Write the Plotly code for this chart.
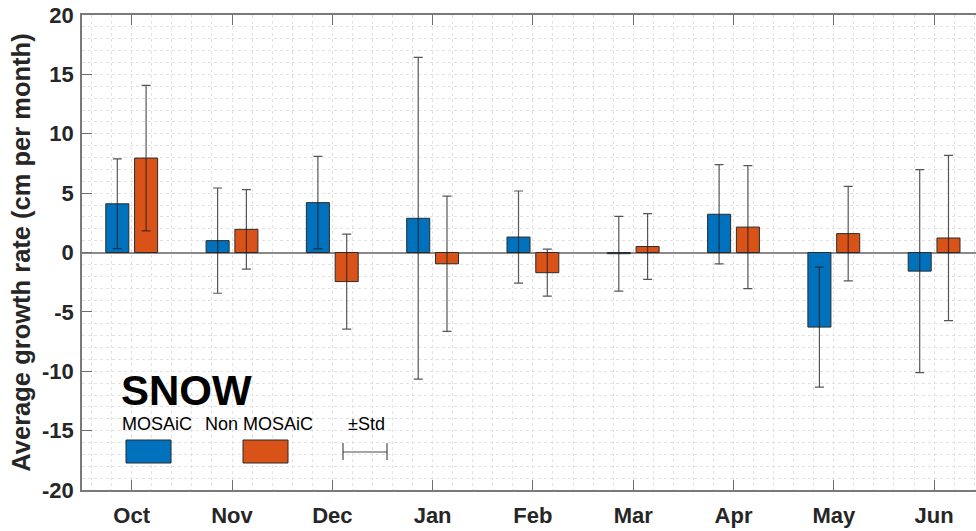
import plotly.graph_objects as go

months = ["Oct", "Nov", "Dec", "Jan", "Feb", "Mar", "Apr", "May", "Jun"]
mosaic_mean = [4.1, 1.0, 4.2, 2.88, 1.3, -0.1, 3.22, -6.28, -1.57]
mosaic_std = [3.78, 4.43, 3.9, 13.55, 3.88, 3.15, 4.18, 5.05, 8.55]
non_mean = [7.95, 1.95, -2.45, -0.95, -1.7, 0.5, 2.14, 1.59, 1.22]
non_std = [6.13, 3.35, 4.0, 5.7, 1.98, 2.77, 5.18, 3.98, 6.96]
yticks = [-20, -15, -10, -5, 0, 5, 10, 15, 20]

BLUE = "#0072BD"
ORANGE = "#D95319"
xpos = list(range(1, len(months) + 1))

W, H = 976, 531
L, R, T, B = 82, 0, 15, 41
PW, PH = W - L - R, H - T - B


def px(xp):
    return (xp - L) / PW


def py(yp):
    return (H - B - yp) / PH


err_style = dict(type="data", visible=True, color="rgba(30,30,30,0.75)",
                 thickness=1.2, width=4.5)

fig = go.Figure()
fig.add_trace(go.Bar(x=xpos, y=mosaic_mean, name="MOSAiC",
                     marker=dict(color=BLUE, line=dict(color="#2b2b2b", width=1)),
                     error_y=dict(array=mosaic_std, **err_style)))
fig.add_trace(go.Bar(x=xpos, y=non_mean, name="Non MOSAiC",
                     marker=dict(color=ORANGE, line=dict(color="#2b2b2b", width=1)),
                     error_y=dict(array=non_std, **err_style)))

x0 = 1 - (131.7 - L) / 100.3
x1 = x0 + PW / 100.3

grid_col = "#e2e2e2"
fig.update_layout(
    width=W, height=H,
    margin=dict(l=L, r=R, t=T, b=B, pad=0),
    paper_bgcolor="white", plot_bgcolor="white",
    barmode="group", bargap=0.426, bargroupgap=0.2,
    showlegend=False,
    font=dict(family="Liberation Sans, Arial, sans-serif", color="#262626"),
)
fig.update_xaxes(
    range=[x0, x1], tickvals=xpos, ticktext=months,
    tickfont=dict(size=22, family="Liberation Sans, Arial, sans-serif", weight="bold"),
    ticks="inside", ticklen=10, tickwidth=1.2, tickcolor="#6e6e6e",
    showline=True, linecolor="#7a7a7a", linewidth=1.5, mirror="ticks",
    showgrid=True, gridcolor=grid_col, griddash="dot", gridwidth=1,
    minor=dict(dtick=0.2, tick0=0, showgrid=True, gridcolor=grid_col,
               griddash="dot", gridwidth=1, ticks=""),
    zeroline=False, ticklabelstandoff=5,
)
fig.update_yaxes(
    range=[-20, 20], tickvals=yticks, ticktext=[str(v) for v in yticks],
    tickfont=dict(size=22, family="Liberation Sans, Arial, sans-serif", weight="bold"),
    ticks="inside", ticklen=10, tickwidth=1.2, tickcolor="#6e6e6e",
    showline=True, linecolor="#7a7a7a", linewidth=1.5, mirror=False,
    showgrid=True, gridcolor=grid_col, griddash="dot", gridwidth=1,
    minor=dict(dtick=1, showgrid=True, gridcolor=grid_col,
               griddash="dot", gridwidth=1, ticks=""),
    zeroline=True, zerolinecolor="#8a8a8a", zerolinewidth=1.5,
    title=dict(text="Average growth rate (cm per month)",
               font=dict(size=25.5, family="Liberation Sans, Arial, sans-serif",
                         weight="bold", color="#262626"),
               standoff=4),
    ticklabelstandoff=2,
)

# custom legend
shapes = [
    dict(type="rect", xref="paper", yref="paper",
         x0=px(126), x1=px(171), y0=py(463), y1=py(440),
         fillcolor=BLUE, line=dict(color="#2b2b2b", width=1)),
    dict(type="rect", xref="paper", yref="paper",
         x0=px(243), x1=px(288), y0=py(463), y1=py(440),
         fillcolor=ORANGE, line=dict(color="#2b2b2b", width=1)),
    dict(type="line", xref="paper", yref="paper",
         x0=px(343), x1=px(387), y0=py(452), y1=py(452),
         line=dict(color="rgba(30,30,30,0.8)", width=1.2)),
    dict(type="line", xref="paper", yref="paper",
         x0=px(343), x1=px(343), y0=py(443), y1=py(460),
         line=dict(color="rgba(30,30,30,0.8)", width=1.2)),
    dict(type="line", xref="paper", yref="paper",
         x0=px(387), x1=px(387), y0=py(443), y1=py(460),
         line=dict(color="rgba(30,30,30,0.8)", width=1.2)),
]
annotations = [
    dict(text="SNOW", xref="paper", yref="paper", x=px(119), y=py(390),
         xanchor="left", yanchor="middle", showarrow=False,
         font=dict(size=42, family="Liberation Sans, Arial, sans-serif",
                   weight="bold", color="black")),
    dict(text="MOSAiC", xref="paper", yref="paper", x=px(120), y=py(424),
         xanchor="left", yanchor="middle", showarrow=False,
         font=dict(size=18, family="Liberation Sans, Arial, sans-serif", color="black")),
    dict(text="Non MOSAiC", xref="paper", yref="paper", x=px(203), y=py(424),
         xanchor="left", yanchor="middle", showarrow=False,
         font=dict(size=18, family="Liberation Sans, Arial, sans-serif", color="black")),
    dict(text="±Std", xref="paper", yref="paper", x=px(346), y=py(424),
         xanchor="left", yanchor="middle", showarrow=False,
         font=dict(size=18, family="Liberation Sans, Arial, sans-serif", color="black")),
]
fig.update_layout(shapes=shapes, annotations=annotations)

fig.write_html("out.html")
